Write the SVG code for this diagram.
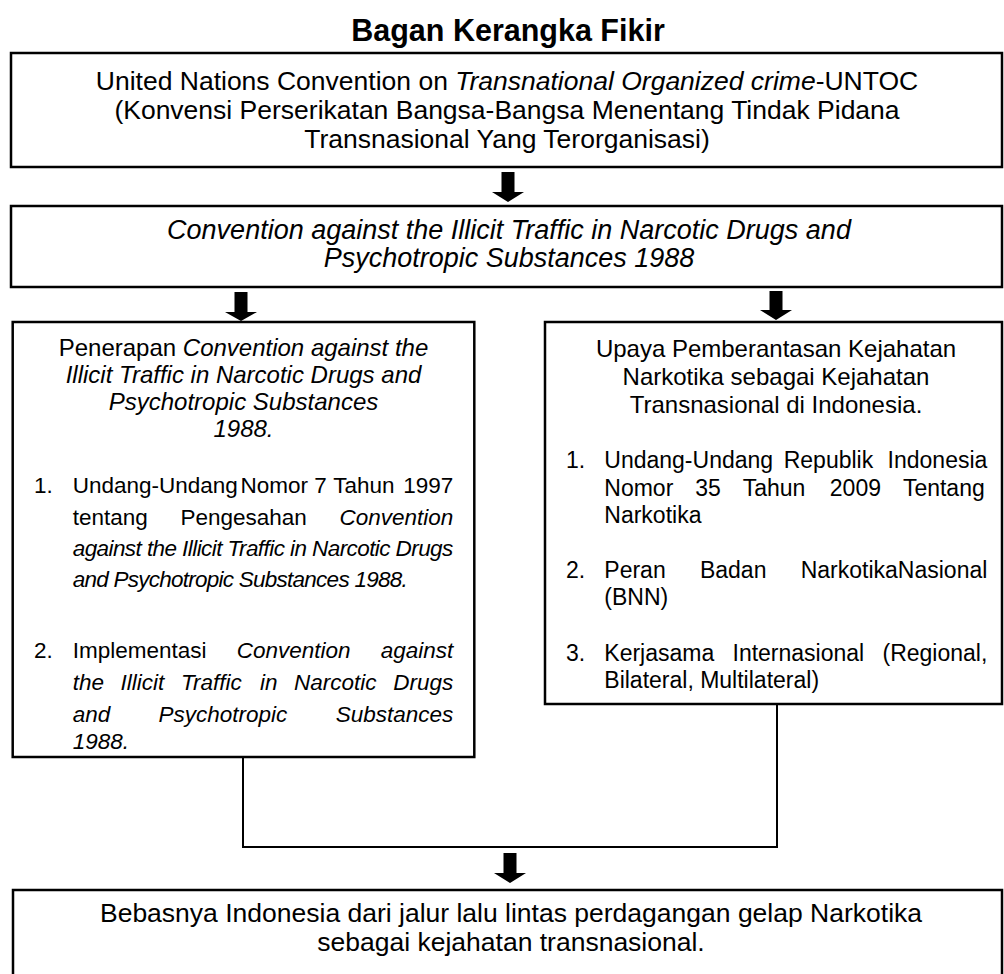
<svg xmlns="http://www.w3.org/2000/svg" width="1004" height="974" viewBox="0 0 1004 974">
<style>
  text { font-family: "Liberation Sans", Arial, sans-serif; fill: #000; }
  .big { font-size: 26.5px; }
  .big2 { font-size: 27px; }
  .side { font-size: 24px; }
  .ll { font-size: 22.5px; }
  .rl { font-size: 23px; }
  .i { font-style: italic; }
  .mid { text-anchor: middle; }
  .end { text-anchor: end; }
  .box { fill: #fff; stroke: #000; stroke-width: 2.5; }
  .conn { fill: none; stroke: #000; stroke-width: 2; }
  .arrow { fill: #000; }
</style>
<rect width="1004" height="974" fill="#fff"/>
<text id="title" x="508" y="41" class="mid" style="font-size:30.5px;font-weight:bold">Bagan Kerangka Fikir</text>

<g id="connectors">
  <polygon class="arrow" points="501.5,172 514.5,172 514.5,192 524,192 508,202 492,192 501.5,192"/>
  <polygon class="arrow" points="234.5,292 247.5,292 247.5,312 257,312 241,321 225,312 234.5,312"/>
  <polygon class="arrow" points="769.5,291 782.5,291 782.5,310 792,310 776,320 760,310 769.5,310"/>
  <polyline class="conn" points="243,757 243,847 777,847 777,704"/>
  <polygon class="arrow" points="503.5,853 516.5,853 516.5,873 526,873 510,883 494,873 503.5,873"/>
</g>

<g id="untoc">
  <rect class="box" x="11" y="53" width="991" height="114"/>
  <text class="big mid" x="507" y="90">United Nations Convention on <tspan class="i">Transnational Organized crime</tspan>-UNTOC</text>
  <text class="big mid" x="507" y="119">(Konvensi Perserikatan Bangsa-Bangsa Menentang Tindak Pidana</text>
  <text class="big mid" x="507" y="148">Transnasional Yang Terorganisasi)</text>
</g>

<g id="convention1988">
  <rect class="box" x="11" y="206" width="991" height="81"/>
  <text class="big2 mid i" x="509" y="239">Convention against the Illicit Traffic in Narcotic Drugs and</text>
  <text class="big2 mid i" x="509" y="267">Psychotropic Substances 1988</text>
</g>

<g id="penerapan">
  <rect class="box" x="12.7" y="322" width="461.6" height="435"/>
  <text class="side mid" x="243.5" y="356">Penerapan <tspan class="i">Convention against the</tspan></text>
  <text class="side mid i" x="243.5" y="383">Illicit Traffic in Narcotic Drugs and</text>
  <text class="side mid i" x="243.5" y="410">Psychotropic Substances</text>
  <text class="side mid i" x="243.5" y="437">1988.</text>

  <text class="ll" x="34" y="493">1.</text>
  <text class="ll" y="493"><tspan x="72.7">Undang-Undang</tspan><tspan x="240.45">Nomor</tspan><tspan x="314.3">7</tspan><tspan x="333.15">Tahun</tspan><tspan x="403.3">1997</tspan></text>
  <text class="ll" y="525"><tspan x="72.7">tentang</tspan><tspan x="180.5">Pengesahan</tspan><tspan x="339.5" class="i">Convention</tspan></text>
  <text class="ll i" x="72.7" y="556" textLength="380.6" lengthAdjust="spacing">against the Illicit Traffic in Narcotic Drugs</text>
  <text class="ll i" x="72.7" y="587" textLength="335" lengthAdjust="spacing">and Psychotropic Substances 1988.</text>

  <text class="ll" x="34" y="658">2.</text>
  <text class="ll" y="658"><tspan x="72.7">Implementasi</tspan><tspan x="236.75" class="i">Convention</tspan><tspan x="380.8" class="i">against</tspan></text>
  <text class="ll i" y="690"><tspan x="72.7">the</tspan><tspan x="120.6">Illicit</tspan><tspan x="180.9">Traffic</tspan><tspan x="260">in</tspan><tspan x="294.1">Narcotic</tspan><tspan x="393.3">Drugs</tspan></text>
  <text class="ll i" y="722"><tspan x="72.7">and</tspan><tspan x="158.55">Psychotropic</tspan><tspan x="335.7">Substances</tspan></text>
  <text class="ll i" x="72.7" y="749">1988.</text>
</g>

<g id="upaya">
  <rect class="box" x="545" y="322" width="457" height="382"/>
  <text class="side mid" x="776" y="357">Upaya Pemberantasan Kejahatan</text>
  <text class="side mid" x="776" y="385">Narkotika sebagai Kejahatan</text>
  <text class="side mid" x="776" y="413">Transnasional di Indonesia.</text>

  <text class="rl" x="566" y="468">1.</text>
  <text class="rl" y="468"><tspan x="604.3">Undang-Undang</tspan><tspan x="783.7">Republik</tspan><tspan x="887.6">Indonesia</tspan></text>
  <text class="rl" y="496"><tspan x="604.3">Nomor</tspan><tspan x="695.2">35</tspan><tspan x="742.7">Tahun</tspan><tspan x="829.8">2009</tspan><tspan x="902.9">Tentang</tspan></text>
  <text class="rl" x="604.3" y="523">Narkotika</text>

  <text class="rl" x="566" y="578">2.</text>
  <text class="rl" y="578"><tspan x="604.3">Peran</tspan><tspan x="699.95">Badan</tspan><tspan x="800.7">NarkotikaNasional</tspan></text>
  <text class="rl" x="604.3" y="605">(BNN)</text>

  <text class="rl" x="566" y="661">3.</text>
  <text class="rl" y="661"><tspan x="604.3">Kerjasama</tspan><tspan x="732.5">Internasional</tspan><tspan x="882.5">(Regional,</tspan></text>
  <text class="rl" x="604.3" y="688">Bilateral, Multilateral)</text>
</g>

<g id="bebas">
  <rect class="box" x="13" y="890" width="989" height="95"/>
  <text class="big mid" x="511" y="922">Bebasnya Indonesia dari jalur lalu lintas perdagangan gelap Narkotika</text>
  <text class="big mid" x="511" y="951">sebagai kejahatan transnasional.</text>
</g>
</svg>
